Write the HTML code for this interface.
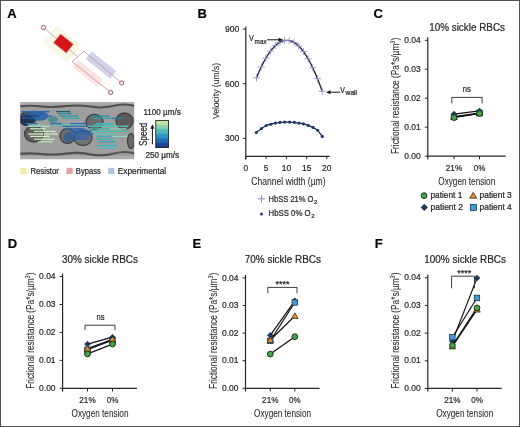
<!DOCTYPE html>
<html><head><meta charset="utf-8"><style>html,body{margin:0;padding:0;background:#fff;overflow:hidden}svg{display:block;will-change:transform}text{stroke:#262626;stroke-width:0.22px}text.c{stroke-width:0.05px}</style></head>
<body>
<svg width="520" height="427" viewBox="0 0 520 427" font-family='"Liberation Sans", sans-serif' fill="#262626">
<rect x="0" y="0" width="520" height="427" fill="#fff"/>
<rect x="0.5" y="0.5" width="519" height="426" fill="none" stroke="#505050" stroke-width="1"/>
<text x="7.3" y="17.6" font-size="13" font-weight="bold" fill="#000" >A</text>
<text x="197.6" y="17.6" font-size="13" font-weight="bold" fill="#000" >B</text>
<text x="373.4" y="18.0" font-size="13" font-weight="bold" fill="#000" >C</text>
<text x="7.7" y="247.8" font-size="13" font-weight="bold" fill="#000" >D</text>
<text x="192.5" y="248" font-size="13" font-weight="bold" fill="#000" >E</text>
<text x="374.8" y="248" font-size="13" font-weight="bold" fill="#000" >F</text>
<g>
<rect x="46.400000000000006" y="32.900000000000006" width="31.6" height="22.4" fill="#f9f8e6" transform="rotate(39 62.2 44.1)"/>
<rect x="72.10000000000001" y="68.8" width="31.6" height="9.4" fill="#fae4e4" transform="rotate(39 87.9 73.5)"/>
<rect x="85.2" y="60.3" width="31.6" height="9.6" fill="#d2d1ed" transform="rotate(39 101 65.1)"/>
<polyline points="43.5,27.5 77.8,56.8" fill="none" stroke="#c47c86" stroke-width="0.7"/>
<polyline points="110.7,92.5 72.2,61.7 83.8,51.3 121.7,83" fill="none" stroke="#c47c86" stroke-width="0.7"/>
<rect x="55.400000000000006" y="37.95" width="16.1" height="11.1" fill="#d21616" stroke="#e45050" stroke-width="0.5" transform="rotate(38.5 63.45 43.5)"/>
<circle cx="43.5" cy="27.5" r="2.1" fill="#fbeef0" stroke="#a05868" stroke-width="1"/>
<circle cx="121.7" cy="83" r="2.1" fill="#fbeef0" stroke="#a05868" stroke-width="1"/>
<circle cx="110.7" cy="92.5" r="2.1" fill="#fbeef0" stroke="#a05868" stroke-width="1"/>
</g>
<defs>
<linearGradient id="cb" x1="0" y1="1" x2="0" y2="0"><stop offset="0" stop-color="#1c3c90"/><stop offset="0.16" stop-color="#1f4a9c"/><stop offset="0.17" stop-color="#2260ae"/><stop offset="0.33" stop-color="#2870b6"/><stop offset="0.34" stop-color="#2c8ebf"/><stop offset="0.5" stop-color="#329cc2"/><stop offset="0.51" stop-color="#48b4bd"/><stop offset="0.67" stop-color="#58bcbb"/><stop offset="0.68" stop-color="#80ccb4"/><stop offset="0.84" stop-color="#96d4b2"/><stop offset="0.85" stop-color="#b8e0a6"/><stop offset="1" stop-color="#cce6a0"/></linearGradient>
<filter id="bl" x="-5%" y="-5%" width="110%" height="110%"><feGaussianBlur stdDeviation="0.7"/></filter>
<filter id="bl2" x="-20%" y="-20%" width="140%" height="140%"><feGaussianBlur stdDeviation="1.2"/></filter>
<clipPath id="micclip"><rect x="20.2" y="101.9" width="114" height="57.4"/></clipPath>
</defs>
<g clip-path="url(#micclip)"><g filter="url(#bl)">
<rect x="19" y="100" width="117" height="62" fill="#9e9e9e"/>
<rect x="19" y="100" width="117" height="4.6" fill="#b0b0b0"/>
<rect x="19" y="155.8" width="117" height="6" fill="#acacac"/>
<path d="M19 106.3 Q30 105.2 42 106.4 T66 106.1 T90 106.6 T114 105.8 T136 106.3" fill="none" stroke="#505050" stroke-width="2.0"/>
<path d="M19 153.9 Q30 152.9 42 154.1 T66 153.6 T90 154.3 T114 153.5 T136 153.9" fill="none" stroke="#535353" stroke-width="2.2"/>
<ellipse cx="34" cy="134" rx="9.5" ry="8" fill="#5e5e5e"/>
<ellipse cx="124.5" cy="121" rx="8.5" ry="8" fill="#5a5a5a"/>
<ellipse cx="131" cy="141" rx="3.5" ry="7.5" fill="#6a6a6a"/>
<ellipse cx="67.5" cy="136" rx="7.5" ry="7.5" fill="#707070"/>
<ellipse cx="83" cy="138" rx="9" ry="7.5" fill="#747474"/>
<ellipse cx="94.5" cy="122" rx="8.5" ry="7.5" fill="#6c6c6c"/>
<ellipse cx="28" cy="118" rx="9" ry="7" fill="#4a4a4a"/>
<ellipse cx="124.5" cy="121" rx="8.5" ry="8" fill="none" stroke="#424242" stroke-width="1.3"/>
<ellipse cx="131" cy="141" rx="3.5" ry="7.5" fill="none" stroke="#424242" stroke-width="1.3"/>
<ellipse cx="67.5" cy="136" rx="7.5" ry="7.5" fill="none" stroke="#424242" stroke-width="1.3"/>
<ellipse cx="83" cy="138" rx="9" ry="7.5" fill="none" stroke="#424242" stroke-width="1.3"/>
<ellipse cx="34" cy="134" rx="9.5" ry="8" fill="none" stroke="#424242" stroke-width="1.3"/>
<ellipse cx="94.5" cy="122" rx="8.5" ry="7.5" fill="none" stroke="#424242" stroke-width="1.3"/>
<ellipse cx="38.5" cy="116" rx="10" ry="4.8" fill="#2a64ac" fill-opacity="0.9"/>
<ellipse cx="27" cy="120.5" rx="7.5" ry="5.5" fill="#1e2e4a" fill-opacity="0.9"/>
<ellipse cx="53" cy="119.5" rx="5" ry="3.5" fill="#3a8c8a" fill-opacity="0.8"/>
<ellipse cx="80" cy="134" rx="11" ry="6" fill="#2a62a8" fill-opacity="0.6"/>
<ellipse cx="68" cy="137.5" rx="4.5" ry="5" fill="#2a5a98" fill-opacity="0.7"/>
<line x1="21" y1="111.6" x2="34.44" y2="111.6" stroke="#2f6db5" stroke-width="1.3"/>
<path d="M36 111.6 L33.79 110.3 L33.79 112.89999999999999 Z" fill="#2f6db5"/>
<line x1="33" y1="111.6" x2="48.44" y2="111.6" stroke="#2c68b2" stroke-width="1.3"/>
<path d="M50 111.6 L47.79 110.3 L47.79 112.89999999999999 Z" fill="#2c68b2"/>
<line x1="56" y1="111.6" x2="68.94" y2="111.6" stroke="#1e5f70" stroke-width="1.3"/>
<path d="M70.5 111.6 L68.29 110.3 L68.29 112.89999999999999 Z" fill="#1e5f70"/>
<line x1="24" y1="113.6" x2="42.44" y2="113.6" stroke="#2a62a8" stroke-width="1.3"/>
<path d="M44 113.6 L41.79 112.3 L41.79 114.89999999999999 Z" fill="#2a62a8"/>
<line x1="58" y1="113.6" x2="70.44" y2="113.6" stroke="#2a8a92" stroke-width="1.3"/>
<path d="M72 113.6 L69.79 112.3 L69.79 114.89999999999999 Z" fill="#2a8a92"/>
<line x1="21" y1="116.0" x2="38.44" y2="116.0" stroke="#1e4680" stroke-width="1.3"/>
<path d="M40 116.0 L37.79 114.7 L37.79 117.3 Z" fill="#1e4680"/>
<line x1="40" y1="116.0" x2="50.44" y2="116.0" stroke="#2f6db5" stroke-width="1.3"/>
<path d="M52 116.0 L49.79 114.7 L49.79 117.3 Z" fill="#2f6db5"/>
<line x1="59.4" y1="116.0" x2="76.94" y2="116.0" stroke="#2f9aa0" stroke-width="1.3"/>
<path d="M78.5 116.0 L76.29 114.7 L76.29 117.3 Z" fill="#2f9aa0"/>
<line x1="91" y1="116.0" x2="108.44" y2="116.0" stroke="#2a92a4" stroke-width="1.3"/>
<path d="M110 116.0 L107.79 114.7 L107.79 117.3 Z" fill="#2a92a4"/>
<line x1="22" y1="118.2" x2="32.44" y2="118.2" stroke="#2a5fa8" stroke-width="1.3"/>
<path d="M34 118.2 L31.79 116.9 L31.79 119.5 Z" fill="#2a5fa8"/>
<line x1="62" y1="118.2" x2="78.44" y2="118.2" stroke="#3aa8a8" stroke-width="1.3"/>
<path d="M80 118.2 L77.79 116.9 L77.79 119.5 Z" fill="#3aa8a8"/>
<line x1="93" y1="118.2" x2="110.44" y2="118.2" stroke="#36a0b0" stroke-width="1.3"/>
<path d="M112 118.2 L109.79 116.9 L109.79 119.5 Z" fill="#36a0b0"/>
<line x1="112" y1="118.2" x2="122.44" y2="118.2" stroke="#2a7fa0" stroke-width="1.3"/>
<path d="M124 118.2 L121.79 116.9 L121.79 119.5 Z" fill="#2a7fa0"/>
<line x1="28" y1="125.0" x2="38.839999999999996" y2="125.0" stroke="#8ed6c0" stroke-width="1.3"/>
<path d="M40.4 125.0 L38.19 123.7 L38.19 126.3 Z" fill="#8ed6c0"/>
<line x1="53" y1="125.0" x2="64.44" y2="125.0" stroke="#58bca0" stroke-width="1.3"/>
<path d="M66 125.0 L63.79 123.7 L63.79 126.3 Z" fill="#58bca0"/>
<line x1="64" y1="125.0" x2="76.94" y2="125.0" stroke="#78d0b0" stroke-width="1.3"/>
<path d="M78.5 125.0 L76.29 123.7 L76.29 126.3 Z" fill="#78d0b0"/>
<line x1="94" y1="125.0" x2="111.84" y2="125.0" stroke="#4cbcc4" stroke-width="1.3"/>
<path d="M113.4 125.0 L111.19000000000001 123.7 L111.19000000000001 126.3 Z" fill="#4cbcc4"/>
<line x1="26" y1="123.6" x2="36.44" y2="123.6" stroke="#3a78b0" stroke-width="1.3"/>
<path d="M38 123.6 L35.79 122.3 L35.79 124.89999999999999 Z" fill="#3a78b0"/>
<line x1="50" y1="123.6" x2="60.44" y2="123.6" stroke="#2a6cb8" stroke-width="1.3"/>
<path d="M62 123.6 L59.79 122.3 L59.79 124.89999999999999 Z" fill="#2a6cb8"/>
<line x1="70" y1="123.6" x2="84.44" y2="123.6" stroke="#2a70bc" stroke-width="1.3"/>
<path d="M86 123.6 L83.79 122.3 L83.79 124.89999999999999 Z" fill="#2a70bc"/>
<line x1="96" y1="123.6" x2="112.44" y2="123.6" stroke="#3ab4c0" stroke-width="1.3"/>
<path d="M114 123.6 L111.79 122.3 L111.79 124.89999999999999 Z" fill="#3ab4c0"/>
<line x1="27.7" y1="126.3" x2="48.44" y2="126.3" stroke="#a8e2c4" stroke-width="1.3"/>
<path d="M50 126.3 L47.79 125.0 L47.79 127.6 Z" fill="#a8e2c4"/>
<line x1="62.6" y1="126.3" x2="78.44" y2="126.3" stroke="#2a6cb8" stroke-width="1.3"/>
<path d="M80 126.3 L77.79 125.0 L77.79 127.6 Z" fill="#2a6cb8"/>
<line x1="80" y1="126.3" x2="92.44" y2="126.3" stroke="#2f74bc" stroke-width="1.3"/>
<path d="M94 126.3 L91.79 125.0 L91.79 127.6 Z" fill="#2f74bc"/>
<line x1="88" y1="126.3" x2="106.44" y2="126.3" stroke="#4ec0b0" stroke-width="1.3"/>
<path d="M108 126.3 L105.79 125.0 L105.79 127.6 Z" fill="#4ec0b0"/>
<line x1="108" y1="126.3" x2="127.74000000000001" y2="126.3" stroke="#58c4b0" stroke-width="1.3"/>
<path d="M129.3 126.3 L127.09000000000002 125.0 L127.09000000000002 127.6 Z" fill="#58c4b0"/>
<line x1="30" y1="128.8" x2="44.44" y2="128.8" stroke="#c8ecbc" stroke-width="1.3"/>
<path d="M46 128.8 L43.79 127.50000000000001 L43.79 130.10000000000002 Z" fill="#c8ecbc"/>
<line x1="64" y1="128.8" x2="82.44" y2="128.8" stroke="#2c68b4" stroke-width="1.3"/>
<path d="M84 128.8 L81.79 127.50000000000001 L81.79 130.10000000000002 Z" fill="#2c68b4"/>
<line x1="90" y1="128.8" x2="108.44" y2="128.8" stroke="#40bca8" stroke-width="1.3"/>
<path d="M110 128.8 L107.79 127.50000000000001 L107.79 130.10000000000002 Z" fill="#40bca8"/>
<line x1="110" y1="128.8" x2="125.44" y2="128.8" stroke="#7ed2b8" stroke-width="1.3"/>
<path d="M127 128.8 L124.79 127.50000000000001 L124.79 130.10000000000002 Z" fill="#7ed2b8"/>
<line x1="34" y1="131.4" x2="54.44" y2="131.4" stroke="#bfe6b8" stroke-width="1.3"/>
<path d="M56 131.4 L53.79 130.1 L53.79 132.70000000000002 Z" fill="#bfe6b8"/>
<line x1="70" y1="131.4" x2="90.44" y2="131.4" stroke="#2a60aa" stroke-width="1.3"/>
<path d="M92 131.4 L89.79 130.1 L89.79 132.70000000000002 Z" fill="#2a60aa"/>
<line x1="92" y1="131.4" x2="110.44" y2="131.4" stroke="#48c0b0" stroke-width="1.3"/>
<path d="M112 131.4 L109.79 130.1 L109.79 132.70000000000002 Z" fill="#48c0b0"/>
<line x1="108" y1="131.4" x2="127.44" y2="131.4" stroke="#44bca8" stroke-width="1.3"/>
<path d="M129 131.4 L126.79 130.1 L126.79 132.70000000000002 Z" fill="#44bca8"/>
<line x1="28" y1="134.0" x2="42.44" y2="134.0" stroke="#d8f0c8" stroke-width="1.3"/>
<path d="M44 134.0 L41.79 132.7 L41.79 135.3 Z" fill="#d8f0c8"/>
<line x1="44" y1="134.0" x2="56.44" y2="134.0" stroke="#c4e8b8" stroke-width="1.3"/>
<path d="M58 134.0 L55.79 132.7 L55.79 135.3 Z" fill="#c4e8b8"/>
<line x1="74" y1="134.0" x2="92.44" y2="134.0" stroke="#2f66ae" stroke-width="1.3"/>
<path d="M94 134.0 L91.79 132.7 L91.79 135.3 Z" fill="#2f66ae"/>
<line x1="94" y1="134.0" x2="116.44" y2="134.0" stroke="#5cc8bc" stroke-width="1.3"/>
<path d="M118 134.0 L115.79 132.7 L115.79 135.3 Z" fill="#5cc8bc"/>
<line x1="30" y1="136.4" x2="48.44" y2="136.4" stroke="#d2eebe" stroke-width="1.3"/>
<path d="M50 136.4 L47.79 135.1 L47.79 137.70000000000002 Z" fill="#d2eebe"/>
<line x1="96" y1="136.4" x2="120.44" y2="136.4" stroke="#3ab0b8" stroke-width="1.3"/>
<path d="M122 136.4 L119.79 135.1 L119.79 137.70000000000002 Z" fill="#3ab0b8"/>
<line x1="112" y1="136.4" x2="126.44" y2="136.4" stroke="#8cd8c0" stroke-width="1.3"/>
<path d="M128 136.4 L125.79 135.1 L125.79 137.70000000000002 Z" fill="#8cd8c0"/>
<line x1="34" y1="139.2" x2="53.44" y2="139.2" stroke="#cde9b4" stroke-width="1.3"/>
<path d="M55 139.2 L52.79 137.89999999999998 L52.79 140.5 Z" fill="#cde9b4"/>
<line x1="72" y1="139.2" x2="88.44" y2="139.2" stroke="#3064a8" stroke-width="1.3"/>
<path d="M90 139.2 L87.79 137.89999999999998 L87.79 140.5 Z" fill="#3064a8"/>
<line x1="96" y1="139.2" x2="112.44" y2="139.2" stroke="#3ab0b8" stroke-width="1.3"/>
<path d="M114 139.2 L111.79 137.89999999999998 L111.79 140.5 Z" fill="#3ab0b8"/>
<line x1="38" y1="141.8" x2="51.44" y2="141.8" stroke="#b8e0b0" stroke-width="1.3"/>
<path d="M53 141.8 L50.79 140.5 L50.79 143.10000000000002 Z" fill="#b8e0b0"/>
<line x1="98" y1="141.8" x2="114.44" y2="141.8" stroke="#2ea8b8" stroke-width="1.3"/>
<path d="M116 141.8 L113.79 140.5 L113.79 143.10000000000002 Z" fill="#2ea8b8"/>
<line x1="96.5" y1="145.6" x2="115.44" y2="145.6" stroke="#34b4c2" stroke-width="1.3"/>
<path d="M117 145.6 L114.79 144.29999999999998 L114.79 146.9 Z" fill="#34b4c2"/>
<line x1="100" y1="148.0" x2="114.44" y2="148.0" stroke="#48bcc8" stroke-width="1.3"/>
<path d="M116 148.0 L113.79 146.7 L113.79 149.3 Z" fill="#48bcc8"/>
</g></g>
<rect x="155.8" y="120.4" width="12.6" height="27.2" fill="url(#cb)" stroke="#111" stroke-width="0.8"/>
<text x="143.4" y="115.3" font-size="8.3" textLength="37.3" lengthAdjust="spacingAndGlyphs" >1100 µm/s</text>
<text x="145.4" y="157.8" font-size="8.3" textLength="33.7" lengthAdjust="spacingAndGlyphs" >250 µm/s</text>
<text x="146.6" y="145.7" font-size="10.4" textLength="22.9" lengthAdjust="spacingAndGlyphs" transform="rotate(-90 146.6 145.7)" >Speed</text>
<line x1="152.4" y1="144.3" x2="152.4" y2="128" stroke="#111" stroke-width="1"/>
<path d="M152.4 124.3 L154.4 128.8 L150.4 128.8 Z" fill="#111"/>
<rect x="20.4" y="167.8" width="6.2" height="6.2" fill="#f1eca4"/>
<text x="30.4" y="174" font-size="8.6" textLength="28.4" lengthAdjust="spacingAndGlyphs" >Resistor</text>
<rect x="66.5" y="167.8" width="6.2" height="6.2" fill="#e1a2a3"/>
<text x="75.8" y="174" font-size="8.6" textLength="25" lengthAdjust="spacingAndGlyphs" >Bypass</text>
<rect x="108.2" y="167.8" width="6.2" height="6.2" fill="#b2c2de"/>
<text x="117.7" y="174" font-size="8.6" textLength="48.5" lengthAdjust="spacingAndGlyphs" >Experimental</text>
<line x1="245.8" y1="26.4" x2="245.8" y2="159.6" stroke="#262626" stroke-width="1.2"/>
<line x1="245.8" y1="156.4" x2="329.6" y2="156.4" stroke="#262626" stroke-width="1.2"/>
<line x1="242.8" y1="29.1" x2="245.8" y2="29.1" stroke="#262626" stroke-width="1"/>
<text x="239.3" y="32.10000000000001" font-size="9.8" text-anchor="end" textLength="14.4" lengthAdjust="spacingAndGlyphs" >900</text>
<line x1="242.8" y1="83.7" x2="245.8" y2="83.7" stroke="#262626" stroke-width="1"/>
<text x="239.3" y="86.70000000000002" font-size="9.8" text-anchor="end" textLength="14.4" lengthAdjust="spacingAndGlyphs" >600</text>
<line x1="242.8" y1="138.3" x2="245.8" y2="138.3" stroke="#262626" stroke-width="1"/>
<text x="239.3" y="141.3" font-size="9.8" text-anchor="end" textLength="14.4" lengthAdjust="spacingAndGlyphs" >300</text>
<line x1="245.8" y1="156.4" x2="245.8" y2="159.2" stroke="#262626" stroke-width="1"/>
<text x="245.8" y="170.5" font-size="9.6" text-anchor="middle" textLength="4.6" lengthAdjust="spacingAndGlyphs" >0</text>
<line x1="266.1" y1="156.4" x2="266.1" y2="159.2" stroke="#262626" stroke-width="1"/>
<text x="266.1" y="170.5" font-size="9.6" text-anchor="middle" textLength="4.6" lengthAdjust="spacingAndGlyphs" >5</text>
<line x1="286.4" y1="156.4" x2="286.4" y2="159.2" stroke="#262626" stroke-width="1"/>
<text x="286.4" y="170.5" font-size="9.6" text-anchor="middle" textLength="9.4" lengthAdjust="spacingAndGlyphs" >10</text>
<line x1="306.7" y1="156.4" x2="306.7" y2="159.2" stroke="#262626" stroke-width="1"/>
<text x="306.7" y="170.5" font-size="9.6" text-anchor="middle" textLength="9.4" lengthAdjust="spacingAndGlyphs" >15</text>
<line x1="326.8" y1="156.4" x2="326.8" y2="159.2" stroke="#262626" stroke-width="1"/>
<text x="326.8" y="170.5" font-size="9.6" text-anchor="middle" textLength="9.4" lengthAdjust="spacingAndGlyphs" >20</text>
<text x="251.3" y="184.6" font-size="10.2" textLength="74.3" lengthAdjust="spacingAndGlyphs" class="c">Channel width (µm)</text>
<text x="219.1" y="119.1" font-size="9.8" textLength="56.2" lengthAdjust="spacingAndGlyphs" transform="rotate(-90 219.1 119.1)" class="c">Velocity (um/s)</text>
<polyline points="256.5,77.8 257.0,76.5 257.5,75.3 258.0,74.1 258.5,73.0 259.0,71.8 259.5,70.7 260.0,69.6 260.5,68.5 261.0,67.5 261.5,66.4 262.0,65.4 262.5,64.4 263.0,63.4 263.5,62.4 264.0,61.5 264.5,60.6 265.0,59.7 265.5,58.8 266.0,58.0 266.5,57.1 267.0,56.3 267.5,55.5 268.0,54.7 268.5,54.0 269.0,53.2 269.5,52.5 270.0,51.8 270.5,51.1 271.0,50.5 271.5,49.9 272.0,49.2 272.5,48.6 273.0,48.1 273.5,47.5 274.0,47.0 274.5,46.5 275.0,46.0 275.5,45.5 276.0,45.1 276.5,44.6 277.0,44.2 277.5,43.8 278.0,43.5 278.5,43.1 279.0,42.8 279.5,42.5 280.0,42.2 280.5,41.9 281.0,41.7 281.5,41.4 282.0,41.2 282.5,41.1 283.0,40.9 283.5,40.7 284.0,40.6 284.5,40.5 285.0,40.4 285.5,40.4 286.0,40.3 286.5,40.3 287.0,40.3 287.5,40.3 288.0,40.4 288.5,40.4 289.0,40.5 289.5,40.6 290.0,40.7 290.5,40.9 291.0,41.0 291.5,41.2 292.0,41.4 292.5,41.6 293.0,41.9 293.5,42.1 294.0,42.4 294.5,42.7 295.0,43.0 295.5,43.4 296.0,43.8 296.5,44.1 297.0,44.5 297.5,45.0 298.0,45.4 298.5,45.9 299.0,46.4 299.5,46.9 300.0,47.4 300.5,48.0 301.0,48.5 301.5,49.1 302.0,49.7 302.5,50.4 303.0,51.0 303.5,51.7 304.0,52.4 304.5,53.1 305.0,53.8 305.5,54.6 306.0,55.3 306.5,56.1 307.0,56.9 307.5,57.8 308.0,58.6 308.5,59.5 309.0,60.4 309.5,61.3 310.0,62.3 310.5,63.2 311.0,64.2 311.5,65.2 312.0,66.2 312.5,67.2 313.0,68.3 313.5,69.4 314.0,70.5 314.5,71.6 315.0,72.7 315.5,73.9 316.0,75.1 316.5,76.3 317.0,77.5 317.5,78.8 318.0,80.0 318.5,81.3 319.0,82.6 319.5,83.9 320.0,85.3 320.5,86.6 321.0,88.0 321.5,89.4 322.0,90.9" fill="none" stroke="#1b1b36" stroke-width="1.3"/>
<path d="M253.0 77.8h7M256.5 74.3v7" stroke="#8e8cc8" stroke-width="0.85"/>
<path d="M257.7 67.1h7M261.2 63.6v7" stroke="#8e8cc8" stroke-width="0.85"/>
<path d="M262.4 58.2h7M265.9 54.7v7" stroke="#8e8cc8" stroke-width="0.85"/>
<path d="M267.1 51.0h7M270.6 47.5v7" stroke="#8e8cc8" stroke-width="0.85"/>
<path d="M271.8 45.7h7M275.3 42.2v7" stroke="#8e8cc8" stroke-width="0.85"/>
<path d="M276.4 42.2h7M279.9 38.7v7" stroke="#8e8cc8" stroke-width="0.85"/>
<path d="M281.1 40.5h7M284.6 37.0v7" stroke="#8e8cc8" stroke-width="0.85"/>
<path d="M285.8 40.6h7M289.3 37.1v7" stroke="#8e8cc8" stroke-width="0.85"/>
<path d="M290.5 42.4h7M294.0 38.9v7" stroke="#8e8cc8" stroke-width="0.85"/>
<path d="M295.2 46.1h7M298.7 42.6v7" stroke="#8e8cc8" stroke-width="0.85"/>
<path d="M299.9 51.5h7M303.4 48.0v7" stroke="#8e8cc8" stroke-width="0.85"/>
<path d="M304.6 58.8h7M308.1 55.3v7" stroke="#8e8cc8" stroke-width="0.85"/>
<path d="M309.3 67.8h7M312.8 64.3v7" stroke="#8e8cc8" stroke-width="0.85"/>
<path d="M314.0 78.7h7M317.5 75.2v7" stroke="#8e8cc8" stroke-width="0.85"/>
<path d="M318.7 91.3h7M322.2 87.8v7" stroke="#8e8cc8" stroke-width="0.85"/>
<polyline points="256.3,132.6 261.5,128.5 266.2,125.5 270.8,124.2 275.4,123.1 280,122.4 284.6,122.1 289.5,122.1 294.4,122.4 299,123.1 303.5,123.9 308.2,125.4 313,127.4 317.7,130.3 322.3,136.4" fill="none" stroke="#1a2c50" stroke-width="1.3" stroke-linejoin="round"/>
<circle cx="256.3" cy="132.6" r="1.55" fill="#1d3866"/>
<circle cx="261.5" cy="128.5" r="1.55" fill="#1d3866"/>
<circle cx="266.2" cy="125.5" r="1.55" fill="#1d3866"/>
<circle cx="270.8" cy="124.2" r="1.55" fill="#1d3866"/>
<circle cx="275.4" cy="123.1" r="1.55" fill="#1d3866"/>
<circle cx="280" cy="122.4" r="1.55" fill="#1d3866"/>
<circle cx="284.6" cy="122.1" r="1.55" fill="#1d3866"/>
<circle cx="289.5" cy="122.1" r="1.55" fill="#1d3866"/>
<circle cx="294.4" cy="122.4" r="1.55" fill="#1d3866"/>
<circle cx="299" cy="123.1" r="1.55" fill="#1d3866"/>
<circle cx="303.5" cy="123.9" r="1.55" fill="#1d3866"/>
<circle cx="308.2" cy="125.4" r="1.55" fill="#1d3866"/>
<circle cx="313" cy="127.4" r="1.55" fill="#1d3866"/>
<circle cx="317.7" cy="130.3" r="1.55" fill="#1d3866"/>
<circle cx="322.3" cy="136.4" r="1.55" fill="#1d3866"/>
<text x="249" y="40.6" font-size="8.4" textLength="4.8" lengthAdjust="spacingAndGlyphs" >V</text>
<text x="254.6" y="43.6" font-size="7.2" textLength="12" lengthAdjust="spacingAndGlyphs" >max</text>
<line x1="267.1" y1="39.8" x2="279" y2="39.8" stroke="#111" stroke-width="1"/>
<path d="M283 39.8 L278.5 37.8 L278.5 41.8 Z" fill="#111"/>
<text x="340.3" y="92.5" font-size="8.4" textLength="4.6" lengthAdjust="spacingAndGlyphs" >V</text>
<text x="345.6" y="95.1" font-size="6.8" textLength="11.5" lengthAdjust="spacingAndGlyphs" >wall</text>
<line x1="330" y1="92.2" x2="340" y2="92.2" stroke="#111" stroke-width="1"/>
<path d="M326 92.2 L330.5 90.2 L330.5 94.2 Z" fill="#111"/>
<path d="M258 198.8h7M261.5 195.3v7" stroke="#8a88c8" stroke-width="1"/>
<text x="268.6" y="201.6" font-size="8.6" textLength="44.9" lengthAdjust="spacingAndGlyphs" >HbSS 21% O</text>
<text x="314.1" y="203.5" font-size="6.2" textLength="3.4" lengthAdjust="spacingAndGlyphs" >2</text>
<circle cx="261.5" cy="214.1" r="1.5" fill="#1d3a6a"/>
<text x="268.6" y="216.2" font-size="8.6" textLength="42.0" lengthAdjust="spacingAndGlyphs" >HbSS 0% O</text>
<text x="311.2" y="218.1" font-size="6.2" textLength="3.4" lengthAdjust="spacingAndGlyphs" >2</text>
<line x1="427.8" y1="37.3" x2="427.8" y2="159.29999999999998" stroke="#262626" stroke-width="1.2"/>
<line x1="427.8" y1="156.1" x2="505.7" y2="156.1" stroke="#262626" stroke-width="1.2"/>
<line x1="424.8" y1="156.1" x2="427.8" y2="156.1" stroke="#262626" stroke-width="1"/>
<text x="420.8" y="158.7" font-size="9.5" text-anchor="end" textLength="16.5" lengthAdjust="spacingAndGlyphs" >0.00</text>
<line x1="424.8" y1="127.1" x2="427.8" y2="127.1" stroke="#262626" stroke-width="1"/>
<text x="420.8" y="129.75" font-size="9.5" text-anchor="end" textLength="16.5" lengthAdjust="spacingAndGlyphs" >0.01</text>
<line x1="424.8" y1="98.2" x2="427.8" y2="98.2" stroke="#262626" stroke-width="1"/>
<text x="420.8" y="100.79999999999998" font-size="9.5" text-anchor="end" textLength="16.5" lengthAdjust="spacingAndGlyphs" >0.02</text>
<line x1="424.8" y1="69.2" x2="427.8" y2="69.2" stroke="#262626" stroke-width="1"/>
<text x="420.8" y="71.85" font-size="9.5" text-anchor="end" textLength="16.5" lengthAdjust="spacingAndGlyphs" >0.03</text>
<line x1="424.8" y1="40.3" x2="427.8" y2="40.3" stroke="#262626" stroke-width="1"/>
<text x="420.8" y="42.9" font-size="9.5" text-anchor="end" textLength="16.5" lengthAdjust="spacingAndGlyphs" >0.04</text>
<line x1="454" y1="156.1" x2="454" y2="159.29999999999998" stroke="#262626" stroke-width="1"/>
<line x1="479.5" y1="156.1" x2="479.5" y2="159.29999999999998" stroke="#262626" stroke-width="1"/>
<text x="454" y="170.7" font-size="9.4" text-anchor="middle" textLength="16.4" lengthAdjust="spacingAndGlyphs" >21%</text>
<text x="479.5" y="170.7" font-size="9.4" text-anchor="middle" textLength="11.6" lengthAdjust="spacingAndGlyphs" >0%</text>
<text x="466.75" y="184.7" font-size="10.4" text-anchor="middle" textLength="57.0" lengthAdjust="spacingAndGlyphs" class="c">Oxygen tension</text>
<text x="429.2" y="31.3" font-size="10.6" textLength="75.8" lengthAdjust="spacingAndGlyphs" >10% sickle RBCs</text>
<text class="c" x="398.9" y="154.0" font-size="10.4" transform="rotate(-90 398.9 154.0)" textLength="116.2" lengthAdjust="spacingAndGlyphs">Frictional resistance (Pa*s/µm<tspan font-size="7" dy="-3.6">3</tspan><tspan dy="3.6">)</tspan></text>
<line x1="454" y1="114.1" x2="479.5" y2="110.9" stroke="#111" stroke-width="1.2"/>
<line x1="454" y1="116.7" x2="479.5" y2="113.0" stroke="#111" stroke-width="1.2"/>
<line x1="454" y1="117.0" x2="479.5" y2="113.3" stroke="#111" stroke-width="1.2"/>
<line x1="454" y1="117.6" x2="479.5" y2="113.5" stroke="#111" stroke-width="1.2"/>
<path d="M454.0 111.4L456.8 114.1L454.0 116.9L451.2 114.1Z" fill="#1f3a63" stroke="#0e1a30" stroke-width="0.8"/>
<path d="M479.5 108.2L482.3 110.9L479.5 113.7L476.7 110.9Z" fill="#1f3a63" stroke="#0e1a30" stroke-width="0.8"/>
<rect x="451.2" y="114.0" width="5.5" height="5.5" fill="#3c9cd9" stroke="#10283a" stroke-width="0.7"/>
<rect x="476.7" y="110.2" width="5.5" height="5.5" fill="#3c9cd9" stroke="#10283a" stroke-width="0.7"/>
<path d="M454.0 113.8L457.3 119.6L450.7 119.6Z" fill="#e38b2a" stroke="#2a1a0a" stroke-width="0.7"/>
<path d="M479.5 110.1L482.8 115.8L476.2 115.8Z" fill="#e38b2a" stroke="#2a1a0a" stroke-width="0.7"/>
<circle cx="454.0" cy="117.6" r="2.90" fill="#44a44a" stroke="#0f2a10" stroke-width="0.9"/>
<circle cx="479.5" cy="113.5" r="2.90" fill="#44a44a" stroke="#0f2a10" stroke-width="0.9"/>
<polyline points="451.8,103.4 451.8,97.4 482.1,97.4 482.1,103.4" fill="none" stroke="#262626" stroke-width="0.9"/>
<text x="466.8" y="91.8" font-size="8.6" text-anchor="middle" textLength="8.0" lengthAdjust="spacingAndGlyphs" >ns</text>
<line x1="62.6" y1="273.7" x2="62.6" y2="391.5" stroke="#262626" stroke-width="1.2"/>
<line x1="62.6" y1="388.3" x2="136.9" y2="388.3" stroke="#262626" stroke-width="1.2"/>
<line x1="59.6" y1="388.3" x2="62.6" y2="388.3" stroke="#262626" stroke-width="1"/>
<text x="55.6" y="390.90000000000003" font-size="9.5" text-anchor="end" textLength="16.5" lengthAdjust="spacingAndGlyphs" >0.00</text>
<line x1="59.6" y1="360.4" x2="62.6" y2="360.4" stroke="#262626" stroke-width="1"/>
<text x="55.6" y="362.95000000000005" font-size="9.5" text-anchor="end" textLength="16.5" lengthAdjust="spacingAndGlyphs" >0.01</text>
<line x1="59.6" y1="332.4" x2="62.6" y2="332.4" stroke="#262626" stroke-width="1"/>
<text x="55.6" y="335.00000000000006" font-size="9.5" text-anchor="end" textLength="16.5" lengthAdjust="spacingAndGlyphs" >0.02</text>
<line x1="59.6" y1="304.5" x2="62.6" y2="304.5" stroke="#262626" stroke-width="1"/>
<text x="55.6" y="307.05000000000007" font-size="9.5" text-anchor="end" textLength="16.5" lengthAdjust="spacingAndGlyphs" >0.03</text>
<line x1="59.6" y1="276.5" x2="62.6" y2="276.5" stroke="#262626" stroke-width="1"/>
<text x="55.6" y="279.1" font-size="9.5" text-anchor="end" textLength="16.5" lengthAdjust="spacingAndGlyphs" >0.04</text>
<line x1="87.5" y1="388.3" x2="87.5" y2="391.5" stroke="#262626" stroke-width="1"/>
<line x1="112.5" y1="388.3" x2="112.5" y2="391.5" stroke="#262626" stroke-width="1"/>
<text x="87.5" y="402.90000000000003" font-size="9.4" text-anchor="middle" textLength="16.4" lengthAdjust="spacingAndGlyphs" >21%</text>
<text x="112.5" y="402.90000000000003" font-size="9.4" text-anchor="middle" textLength="11.6" lengthAdjust="spacingAndGlyphs" >0%</text>
<text x="100.0" y="416.90000000000003" font-size="10.4" text-anchor="middle" textLength="57.0" lengthAdjust="spacingAndGlyphs" class="c">Oxygen tension</text>
<text x="61.9" y="263.0" font-size="10.6" textLength="76.1" lengthAdjust="spacingAndGlyphs" >30% sickle RBCs</text>
<text class="c" x="33.7" y="388.7" font-size="10.4" transform="rotate(-90 33.7 388.7)" textLength="116.2" lengthAdjust="spacingAndGlyphs">Frictional resistance (Pa*s/µm<tspan font-size="7" dy="-3.6">3</tspan><tspan dy="3.6">)</tspan></text>
<line x1="87.5" y1="344.1" x2="112.5" y2="337.2" stroke="#111" stroke-width="1.2"/>
<line x1="87.5" y1="349.7" x2="112.5" y2="340.2" stroke="#111" stroke-width="1.2"/>
<line x1="87.5" y1="348.6" x2="112.5" y2="339.4" stroke="#111" stroke-width="1.2"/>
<line x1="87.5" y1="353.9" x2="112.5" y2="344.1" stroke="#111" stroke-width="1.2"/>
<path d="M87.5 341.4L90.3 344.1L87.5 346.9L84.7 344.1Z" fill="#1f3a63" stroke="#0e1a30" stroke-width="0.8"/>
<path d="M112.5 334.4L115.3 337.2L112.5 339.9L109.7 337.2Z" fill="#1f3a63" stroke="#0e1a30" stroke-width="0.8"/>
<rect x="84.7" y="347.0" width="5.5" height="5.5" fill="#3c9cd9" stroke="#10283a" stroke-width="0.7"/>
<rect x="109.7" y="337.5" width="5.5" height="5.5" fill="#3c9cd9" stroke="#10283a" stroke-width="0.7"/>
<path d="M87.5 345.4L90.8 351.2L84.2 351.2Z" fill="#e38b2a" stroke="#2a1a0a" stroke-width="0.7"/>
<path d="M112.5 336.2L115.8 341.9L109.2 341.9Z" fill="#e38b2a" stroke="#2a1a0a" stroke-width="0.7"/>
<circle cx="87.5" cy="353.9" r="2.90" fill="#44a44a" stroke="#0f2a10" stroke-width="0.9"/>
<circle cx="112.5" cy="344.1" r="2.90" fill="#44a44a" stroke="#0f2a10" stroke-width="0.9"/>
<polyline points="85,330.2 85,325.2 115,325.2 115,330.2" fill="none" stroke="#262626" stroke-width="0.9"/>
<text x="100.5" y="319.8" font-size="8.6" text-anchor="middle" textLength="8.0" lengthAdjust="spacingAndGlyphs" >ns</text>
<line x1="245.5" y1="274.9" x2="245.5" y2="391.5" stroke="#262626" stroke-width="1.2"/>
<line x1="245.5" y1="388.3" x2="319.6" y2="388.3" stroke="#262626" stroke-width="1.2"/>
<line x1="242.5" y1="388.3" x2="245.5" y2="388.3" stroke="#262626" stroke-width="1"/>
<text x="238.5" y="390.90000000000003" font-size="9.5" text-anchor="end" textLength="16.5" lengthAdjust="spacingAndGlyphs" >0.00</text>
<line x1="242.5" y1="360.7" x2="245.5" y2="360.7" stroke="#262626" stroke-width="1"/>
<text x="238.5" y="363.3" font-size="9.5" text-anchor="end" textLength="16.5" lengthAdjust="spacingAndGlyphs" >0.01</text>
<line x1="242.5" y1="333.1" x2="245.5" y2="333.1" stroke="#262626" stroke-width="1"/>
<text x="238.5" y="335.70000000000005" font-size="9.5" text-anchor="end" textLength="16.5" lengthAdjust="spacingAndGlyphs" >0.02</text>
<line x1="242.5" y1="305.5" x2="245.5" y2="305.5" stroke="#262626" stroke-width="1"/>
<text x="238.5" y="308.1" font-size="9.5" text-anchor="end" textLength="16.5" lengthAdjust="spacingAndGlyphs" >0.03</text>
<line x1="242.5" y1="277.9" x2="245.5" y2="277.9" stroke="#262626" stroke-width="1"/>
<text x="238.5" y="280.5" font-size="9.5" text-anchor="end" textLength="16.5" lengthAdjust="spacingAndGlyphs" >0.04</text>
<line x1="270.3" y1="388.3" x2="270.3" y2="391.5" stroke="#262626" stroke-width="1"/>
<line x1="294.8" y1="388.3" x2="294.8" y2="391.5" stroke="#262626" stroke-width="1"/>
<text x="270.3" y="402.90000000000003" font-size="9.4" text-anchor="middle" textLength="16.4" lengthAdjust="spacingAndGlyphs" >21%</text>
<text x="294.8" y="402.90000000000003" font-size="9.4" text-anchor="middle" textLength="11.6" lengthAdjust="spacingAndGlyphs" >0%</text>
<text x="282.55" y="416.90000000000003" font-size="10.4" text-anchor="middle" textLength="57.0" lengthAdjust="spacingAndGlyphs" class="c">Oxygen tension</text>
<text x="244.8" y="263.3" font-size="10.6" textLength="76.2" lengthAdjust="spacingAndGlyphs" >70% sickle RBCs</text>
<text class="c" x="216.6" y="388.9" font-size="10.4" transform="rotate(-90 216.6 388.9)" textLength="116.2" lengthAdjust="spacingAndGlyphs">Frictional resistance (Pa*s/µm<tspan font-size="7" dy="-3.6">3</tspan><tspan dy="3.6">)</tspan></text>
<line x1="270.3" y1="335.3" x2="294.8" y2="300.8" stroke="#111" stroke-width="1.2"/>
<line x1="270.3" y1="340.8" x2="294.8" y2="302.5" stroke="#111" stroke-width="1.2"/>
<line x1="270.3" y1="340.0" x2="294.8" y2="316.0" stroke="#111" stroke-width="1.2"/>
<line x1="270.3" y1="354.1" x2="294.8" y2="336.7" stroke="#111" stroke-width="1.2"/>
<path d="M270.3 332.6L273.1 335.3L270.3 338.1L267.5 335.3Z" fill="#1f3a63" stroke="#0e1a30" stroke-width="0.8"/>
<path d="M294.8 298.1L297.6 300.8L294.8 303.6L292.0 300.8Z" fill="#1f3a63" stroke="#0e1a30" stroke-width="0.8"/>
<rect x="267.5" y="338.1" width="5.5" height="5.5" fill="#3c9cd9" stroke="#10283a" stroke-width="0.7"/>
<rect x="292.0" y="299.7" width="5.5" height="5.5" fill="#3c9cd9" stroke="#10283a" stroke-width="0.7"/>
<path d="M270.3 336.8L273.6 342.6L267.0 342.6Z" fill="#e38b2a" stroke="#2a1a0a" stroke-width="0.7"/>
<path d="M294.8 312.8L298.1 318.5L291.5 318.5Z" fill="#e38b2a" stroke="#2a1a0a" stroke-width="0.7"/>
<circle cx="270.3" cy="354.1" r="2.90" fill="#44a44a" stroke="#0f2a10" stroke-width="0.9"/>
<circle cx="294.8" cy="336.7" r="2.90" fill="#44a44a" stroke="#0f2a10" stroke-width="0.9"/>
<polyline points="267.8,293.2 267.8,287.4 297,287.4 297,293.2" fill="none" stroke="#262626" stroke-width="0.9"/>
<text x="282.6" y="287.2" font-size="8.6" text-anchor="middle" textLength="14" lengthAdjust="spacingAndGlyphs" >****</text>
<line x1="427.8" y1="274.6" x2="427.8" y2="391.59999999999997" stroke="#262626" stroke-width="1.2"/>
<line x1="427.8" y1="388.4" x2="501.7" y2="388.4" stroke="#262626" stroke-width="1.2"/>
<line x1="424.8" y1="388.4" x2="427.8" y2="388.4" stroke="#262626" stroke-width="1"/>
<text x="420.8" y="391.0" font-size="9.5" text-anchor="end" textLength="16.5" lengthAdjust="spacingAndGlyphs" >0.00</text>
<line x1="424.8" y1="360.8" x2="427.8" y2="360.8" stroke="#262626" stroke-width="1"/>
<text x="420.8" y="363.35" font-size="9.5" text-anchor="end" textLength="16.5" lengthAdjust="spacingAndGlyphs" >0.01</text>
<line x1="424.8" y1="333.1" x2="427.8" y2="333.1" stroke="#262626" stroke-width="1"/>
<text x="420.8" y="335.7" font-size="9.5" text-anchor="end" textLength="16.5" lengthAdjust="spacingAndGlyphs" >0.02</text>
<line x1="424.8" y1="305.4" x2="427.8" y2="305.4" stroke="#262626" stroke-width="1"/>
<text x="420.8" y="308.05" font-size="9.5" text-anchor="end" textLength="16.5" lengthAdjust="spacingAndGlyphs" >0.03</text>
<line x1="424.8" y1="277.8" x2="427.8" y2="277.8" stroke="#262626" stroke-width="1"/>
<text x="420.8" y="280.4" font-size="9.5" text-anchor="end" textLength="16.5" lengthAdjust="spacingAndGlyphs" >0.04</text>
<line x1="452.4" y1="388.4" x2="452.4" y2="391.59999999999997" stroke="#262626" stroke-width="1"/>
<line x1="477" y1="388.4" x2="477" y2="391.59999999999997" stroke="#262626" stroke-width="1"/>
<text x="452.4" y="403.0" font-size="9.4" text-anchor="middle" textLength="16.4" lengthAdjust="spacingAndGlyphs" >21%</text>
<text x="477" y="403.0" font-size="9.4" text-anchor="middle" textLength="11.6" lengthAdjust="spacingAndGlyphs" >0%</text>
<text x="464.7" y="417.0" font-size="10.4" text-anchor="middle" textLength="57.0" lengthAdjust="spacingAndGlyphs" class="c">Oxygen tension</text>
<text x="424.3" y="263.3" font-size="10.6" textLength="81.7" lengthAdjust="spacingAndGlyphs" >100% sickle RBCs</text>
<text class="c" x="398.9" y="388.7" font-size="10.4" transform="rotate(-90 398.9 388.7)" textLength="116.2" lengthAdjust="spacingAndGlyphs">Frictional resistance (Pa*s/µm<tspan font-size="7" dy="-3.6">3</tspan><tspan dy="3.6">)</tspan></text>
<line x1="452.4" y1="341.1" x2="477" y2="278.1" stroke="#111" stroke-width="1.2"/>
<line x1="452.4" y1="337.2" x2="477" y2="298.0" stroke="#111" stroke-width="1.2"/>
<line x1="452.4" y1="346.4" x2="477" y2="309.6" stroke="#111" stroke-width="1.2"/>
<line x1="452.4" y1="345.5" x2="477" y2="307.9" stroke="#111" stroke-width="1.2"/>
<path d="M452.4 338.4L455.2 341.1L452.4 343.9L449.6 341.1Z" fill="#1f3a63" stroke="#0e1a30" stroke-width="0.8"/>
<path d="M477.0 275.3L479.8 278.1L477.0 280.8L474.2 278.1Z" fill="#1f3a63" stroke="#0e1a30" stroke-width="0.8"/>
<rect x="449.6" y="334.5" width="5.5" height="5.5" fill="#3c9cd9" stroke="#10283a" stroke-width="0.7"/>
<rect x="474.2" y="295.2" width="5.5" height="5.5" fill="#3c9cd9" stroke="#10283a" stroke-width="0.7"/>
<path d="M452.4 343.2L455.7 348.9L449.1 348.9Z" fill="#e38b2a" stroke="#2a1a0a" stroke-width="0.7"/>
<path d="M477.0 306.4L480.3 312.1L473.7 312.1Z" fill="#e38b2a" stroke="#2a1a0a" stroke-width="0.7"/>
<circle cx="452.4" cy="345.5" r="2.90" fill="#44a44a" stroke="#0f2a10" stroke-width="0.9"/>
<circle cx="477.0" cy="307.9" r="2.90" fill="#44a44a" stroke="#0f2a10" stroke-width="0.9"/>
<polyline points="451.6,288.3 451.6,276.2 474.5,276.2 474.5,288.3" fill="none" stroke="#262626" stroke-width="0.9"/>
<text x="464.2" y="276" font-size="8.6" text-anchor="middle" textLength="14" lengthAdjust="spacingAndGlyphs" >****</text>
<circle cx="424.0" cy="195.6" r="2.90" fill="#44a44a" stroke="#0f2a10" stroke-width="0.9"/>
<text x="430.5" y="198" font-size="8.2" textLength="31.8" lengthAdjust="spacingAndGlyphs" >patient 1</text>
<path d="M473.2 192.3L476.7 198.2L469.7 198.2Z" fill="#e38b2a" stroke="#2a1a0a" stroke-width="0.7"/>
<text x="479.6" y="198" font-size="8.2" textLength="32.2" lengthAdjust="spacingAndGlyphs" >patient 3</text>
<path d="M424.3 204.3L427.4 207.4L424.3 210.5L421.2 207.4Z" fill="#1f3a63" stroke="#0e1a30" stroke-width="0.8"/>
<text x="430.5" y="210.2" font-size="8.2" textLength="32.5" lengthAdjust="spacingAndGlyphs" >patient 2</text>
<rect x="470.4" y="204.3" width="6.2" height="6.2" fill="#3c9cd9" stroke="#10283a" stroke-width="0.7"/>
<text x="479.6" y="210.2" font-size="8.2" textLength="32.2" lengthAdjust="spacingAndGlyphs" >patient 4</text>
</svg>
</body></html>
